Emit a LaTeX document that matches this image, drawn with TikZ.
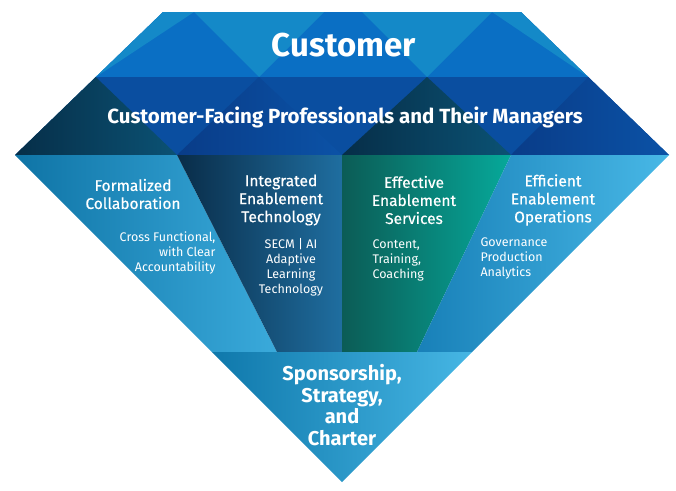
\documentclass[tikz,border=0pt]{standalone}
\usepackage{fontspec}
\setmainfont{Fira Sans}
\newfontfamily\medfont[FakeBold=0.5]{Fira Sans}
\usepackage{tikz}
\usepackage{color}
\definecolor{topblue}{HTML}{0A6FC4}
\definecolor{toplight}{HTML}{1489C8}
\definecolor{midblue}{HTML}{0A4EA0}
\definecolor{navyL}{HTML}{062E48}
\definecolor{navyR}{HTML}{0B5274}
\definecolor{deepL}{HTML}{093C88}
\definecolor{deepR}{HTML}{0B52A6}
\definecolor{skyL}{HTML}{0F74A6}
\definecolor{skyR}{HTML}{3AAADB}
\definecolor{techL}{HTML}{092C48}
\definecolor{techR}{HTML}{1F6EA0}
\definecolor{tealL}{HTML}{0B5C56}
\definecolor{tealR}{HTML}{06A99A}
\definecolor{opsL}{HTML}{1880B8}
\definecolor{opsR}{HTML}{48B8E6}
\definecolor{baseL}{HTML}{0F78AB}
\definecolor{baseR}{HTML}{46B6E4}

\begin{document}
\begin{tikzpicture}[x=1pt,y=-1pt,
  head/.style={text=white,font=\bfseries\fontsize{20.5}{22}\selectfont,align=center},
  title/.style={text=white,font=\medfont\fontsize{15.5}{18}\selectfont,align=center},
  detail/.style={text=white,font=\fontsize{12.5}{15}\selectfont}]
\useasboundingbox (0,0) rectangle (676,490);
% top band
\fill[topblue] (163,12) -- (521,12) -- (588.3,77) -- (95.7,77) -- cycle;
\fill[toplight] (163,12) -- (194,12) -- (95.7,77) -- cycle;
\fill[toplight] (194,12) -- (324,12) -- (259,77) -- cycle;
\fill[toplight] (362,12) -- (492,12) -- (427,77) -- cycle;
\fill[toplight] (492,12) -- (521,12) -- (588.3,77) -- cycle;
% second band
\fill[midblue] (95.7,77) -- (588.3,77) -- (669,155) -- (15,155) -- cycle;
\shade[left color=navyL,right color=navyR] (95.7,77) -- (177,155) -- (15,155) -- cycle;
\shade[left color=deepL,right color=deepR] (259,77) -- (342,155) -- (177,155) -- cycle;
\shade[left color=navyL,right color=navyR] (427,77) -- (511,155) -- (342,155) -- cycle;
\shade[left color=deepL,right color=deepR] (588.3,77) -- (669,155) -- (511,155) -- cycle;
% columns
\shade[left color=skyL,right color=skyR] (15,155) -- (177,155) -- (277,352) -- (212,352) -- cycle;
\shade[left color=techL,right color=techR] (177,155) -- (342,155) -- (342,352) -- (277,352) -- cycle;
\shade[left color=tealL,right color=tealR] (342,155) -- (511,155) -- (417,352) -- (342,352) -- cycle;
\shade[left color=opsL,right color=opsR] (511,155) -- (669,155) -- (472,352) -- (417,352) -- cycle;
% bottom
\shade[left color=baseL,right color=baseR] (212,352) -- (472,352) -- (342,482) -- cycle;
% labels
\node[head,font=\bfseries\fontsize{33}{36}\selectfont] (customer) at (344,45) {Customer};
\node[head] (facing) at (345,117) {Customer-Facing Professionals and Their Managers};
\node[title] (collab) at (133,194) {Formalized\\Collaboration};
\node[detail,align=right,anchor=east] (collabtxt) at (219,253) {Cross Functional,\\with Clear\\Accountability};
\node[title] (tech) at (281,200) {Integrated\\Enablement\\Technology};
\node[detail,align=center] (techtxt) at (291,267) {SECM | AI\\Adaptive\\Learning\\Technology};
\node[title] (services) at (414,200) {Effective\\Enablement\\Services};
\node[detail,align=left,anchor=west] (servicestxt) at (369,260) {Content,\\Training,\\Coaching};
\node[title] (ops) at (553,200) {Efficient\\Enablement\\Operations};
\node[detail,align=left,anchor=west] (opstxt) at (477,258) {Governance\\Production\\Analytics};
\node[head,font=\bfseries\fontsize{20}{21.5}\selectfont] (sponsor) at (342,405) {Sponsorship,\\Strategy,\\and\\Charter};
\end{tikzpicture}
\end{document}
